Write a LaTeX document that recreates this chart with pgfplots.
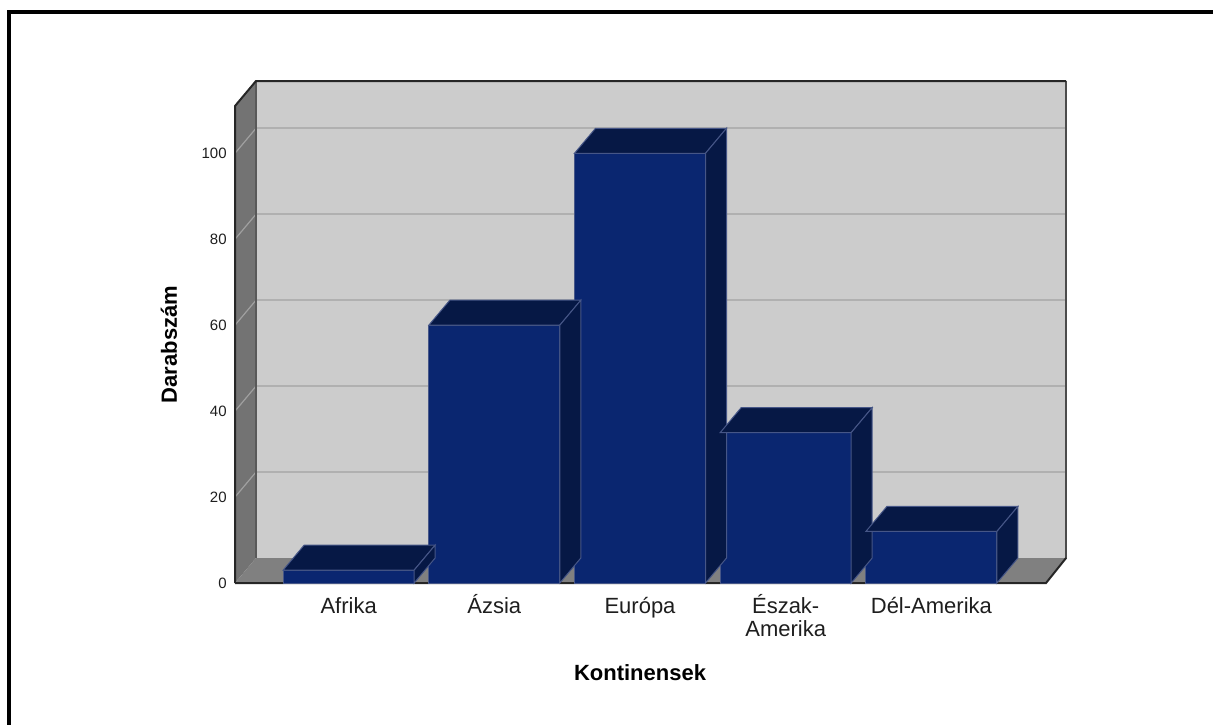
\documentclass[border=0pt]{standalone}
\usepackage{fontspec}
\setmainfont{Liberation Sans}
\usepackage{pgfplots}
\usepackage{pgfplotstable}
\pgfplotsset{compat=1.18}

\definecolor{barfront}{RGB}{10,38,112}
\definecolor{bardark}{RGB}{6,24,69}
\definecolor{baredge}{RGB}{70,86,135}
\definecolor{backwall}{RGB}{204,204,204}
\definecolor{sidewall}{RGB}{115,115,115}
\definecolor{floorc}{RGB}{128,128,128}
\definecolor{gridc}{RGB}{176,176,176}
\definecolor{sidegrid}{RGB}{160,160,160}
\definecolor{txt}{RGB}{30,30,30}

\pgfplotstableread{
x y
0 3
1 60
2 100
3 35
4 12
}\data

\pgfdeclareplotmark{nothing}{}

\begin{document}
\begin{tikzpicture}
\useasboundingbox (0,0) rectangle (606.5pt,-362pt);

% frame, walls and floor (pixel coordinates, 1px = 0.5pt)
\begin{scope}[x=0.5pt,y=-0.5pt]
  \draw[line width=2pt] (9,730) -- (9,12) -- (1220,12);
  \fill[backwall] (256,81) rectangle (1066,558);
  \fill[sidewall] (235,106) -- (256,81) -- (256,558) -- (235,583) -- cycle;
  \fill[floorc] (235,583) -- (256,558) -- (1066,558) -- (1046,583) -- cycle;
  \foreach \v in {20,40,60,80,100} {
    \pgfmathsetmacro\yy{583-4.2973*\v}
    \draw[gridc, line width=0.8pt] (256,\yy-25) -- (1066,\yy-25);
    \draw[sidegrid, line width=0.6pt] (235,\yy) -- (256,\yy-25);
  }
  \draw[gray!70!black, line width=0.6pt] (256,81) -- (256,558);
  \draw[gray!60!black, line width=1pt] (1066,81) -- (1066,559);
  \draw[black!85, line width=1pt] (235,583) -- (235,106) -- (256,81) -- (1066,81);
  \draw[black!85, line width=1pt] (235,583) -- (1046,583) -- (1066,558);
\end{scope}

\begin{axis}[
  scale only axis,
  width=405pt, height=238.5pt,
  anchor=south west, at={(117.5pt,-291.5pt)},
  xmin=-0.78, xmax=4.78,
  ymin=0, ymax=111,
  enlargelimits=false,
  clip=false,
  axis line style={draw=none},
  major tick style={draw=none},
  /pgf/number format/assume math mode=true,
  ytick={0,20,40,60,80,100},
  xtick={0,1,2,3,4},
  xticklabels={Afrika, Ázsia, Európa,
    {\begin{tabular}[t]{@{}c@{}}Észak-\\Amerika\end{tabular}}, Dél-Amerika},
  yticklabel style={font=\fontsize{7.5}{9}\selectfont, text=txt, inner sep=0pt, xshift=-4pt},
  xticklabel style={font=\fontsize{11}{11.5}\selectfont, text=txt,
    inner sep=0pt, anchor=north, text height=8pt, yshift=-7pt},
  xlabel={Kontinensek},
  ylabel={Darabszám},
  every axis x label/.style={at={(axis description cs:0.5,-0.1876)}, anchor=center,
    font=\bfseries\fontsize{11}{13}\selectfont},
  every axis y label/.style={at={(axis description cs:-0.0815,0.5)}, anchor=center,
    rotate=90, font=\bfseries\fontsize{11}{13}\selectfont},
]
% top and side faces of the bars
\addplot[
  scatter, only marks, mark=nothing,
  visualization depends on={\thisrow{y} \as \barh},
  scatter/@pre marker code/.code={
    \pgfmathsetlengthmacro\H{\barh*2.148649pt}
    \filldraw[fill=bardark, draw=baredge, line width=0.5pt]
      (-32.75pt,0pt) -- (32.75pt,0pt) -- (43.25pt,12.5pt) -- (-22.25pt,12.5pt) -- cycle;
    \filldraw[fill=bardark, draw=baredge, line width=0.5pt]
      (32.75pt,0pt) -- (43.25pt,12.5pt) -- (43.25pt,12.5pt-\H) -- (32.75pt,-\H) -- cycle;
  },
  scatter/@post marker code/.code={},
] table[x=x, y=y] {\data};
% front faces
\addplot[ybar, bar width=65.5pt, fill=barfront, draw=baredge, line width=0.5pt]
  table[x=x, y=y] {\data};
\end{axis}
\end{tikzpicture}
\end{document}
